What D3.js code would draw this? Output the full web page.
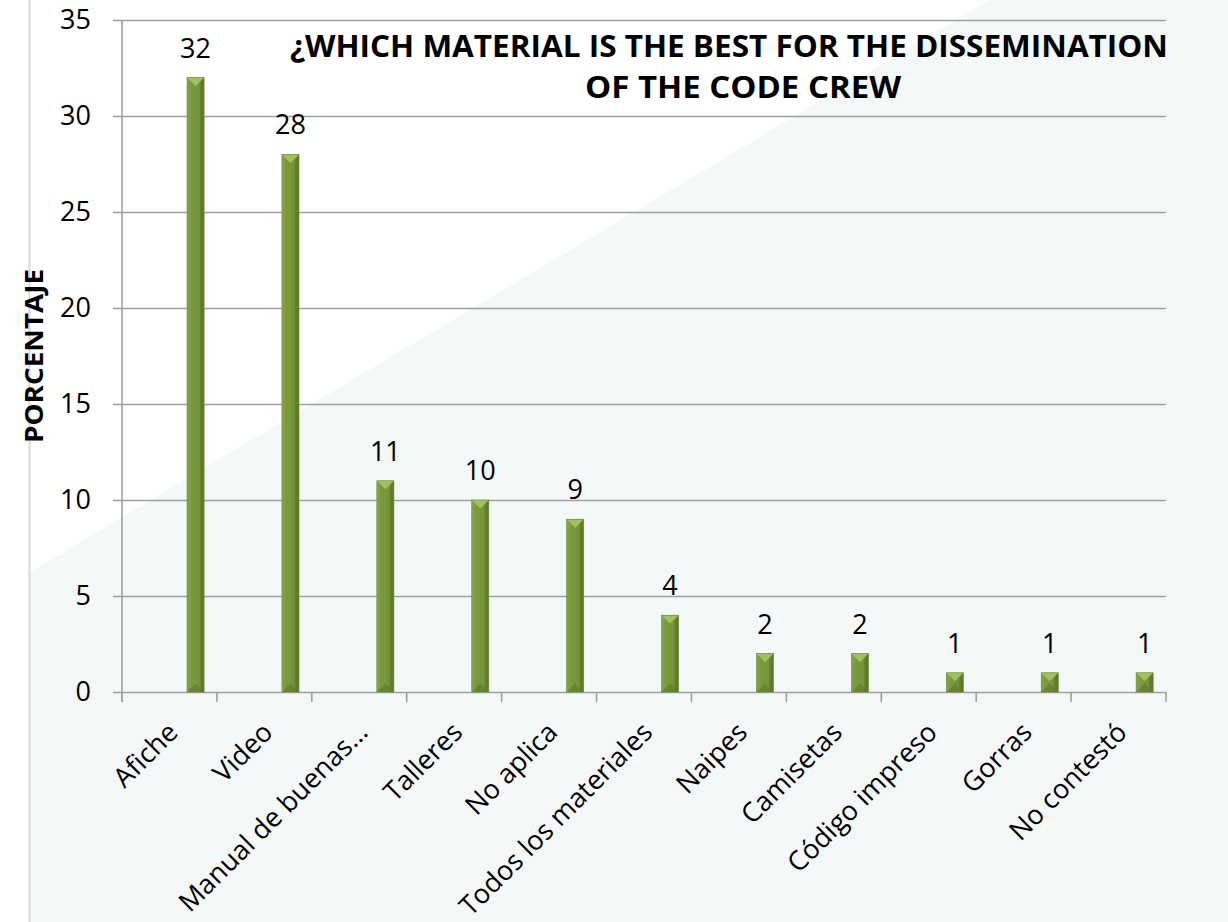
<!DOCTYPE html>
<html>
<head>
<meta charset="utf-8">
<script src="https://cdn.jsdelivr.net/npm/d3@7"></script>
<style>
  html, body { margin: 0; padding: 0; background: #fff; }
  svg { display: block; font-family: "Open Sans", "Noto Sans", sans-serif; }
</style>
</head>
<body>
<svg id="chart"></svg>
<script>
// data
const categories = ["Afiche", "Video", "Manual de buenas…", "Talleres", "No aplica",
  "Todos los materiales", "Naipes", "Camisetas", "Código impreso", "Gorras", "No contestó"];
const values = [32, 28, 11, 10, 9, 4, 2, 2, 1, 1, 1];
const yTicks = [0, 5, 10, 15, 20, 25, 30, 35];
const titleLines = ["¿WHICH MATERIAL IS THE BEST FOR THE DISSEMINATION", "OF THE CODE CREW"];
const yTitle = "PORCENTAJE";

const width = 1228, height = 922;
const margin = { top: 20, right: 62, bottom: 230, left: 122 };

const svg = d3.select("#chart").attr("width", width).attr("height", height);

// background: white corner + light grey diagonal panel
svg.append("rect").attr("width", width).attr("height", height).attr("fill", "#ffffff");
svg.append("path")
  .attr("d", "M30,572 L990,0 L1228,0 L1228,922 L30,922 Z")
  .attr("fill", "#f5f8f8");
svg.append("line")
  .attr("x1", 29.5).attr("x2", 29.5).attr("y1", 0).attr("y2", height)
  .attr("stroke", "#d9d9d9").attr("stroke-width", 2);

const x = d3.scaleBand()
  .domain(categories)
  .range([margin.left, width - margin.right])
  .padding(0);

const y = d3.scaleLinear()
  .domain([0, 35])
  .range([height - margin.bottom, margin.top]);

const y0 = y(0);

// gridlines + y labels
const yAxis = svg.append("g")
  .attr("transform", `translate(${margin.left - 9},0)`)
  .call(d3.axisLeft(y).tickValues(yTicks).tickSize(-(width - margin.right - margin.left + 9)).tickPadding(22));
yAxis.select(".domain").remove();
yAxis.selectAll(".tick line").attr("stroke", "#a0a0a0").attr("stroke-width", 1.6);
yAxis.selectAll(".tick text")
  .attr("font-family", "'Open Sans', sans-serif")
  .attr("font-size", 27)
  .attr("fill", "#000");

// vertical axis line
svg.append("line")
  .attr("x1", margin.left).attr("x2", margin.left)
  .attr("y1", y(35)).attr("y2", y0 + 10)
  .attr("stroke", "#a0a0a0").attr("stroke-width", 1.6);

// x tick marks at band boundaries
const bounds = categories.map(d => x(d)).concat([x.range()[1]]);
svg.append("g").selectAll("line")
  .data(bounds)
  .join("line")
  .attr("x1", d => d).attr("x2", d => d)
  .attr("y1", y0).attr("y2", y0 + 10)
  .attr("stroke", "#a0a0a0").attr("stroke-width", 1.6);

// gradients for bars
const defs = svg.append("defs");
const g1 = defs.append("linearGradient").attr("id", "barBody")
  .attr("x1", "0%").attr("x2", "100%").attr("y1", "0%").attr("y2", "0%");
[["0%", "#86a64a"], ["18%", "#7d9d40"], ["22%", "#7a9a3d"], ["72%", "#75943a"],
 ["80%", "#627e2e"], ["100%", "#5b7629"]].forEach(s =>
  g1.append("stop").attr("offset", s[0]).attr("stop-color", s[1]));

const bars = svg.append("g").selectAll("g")
  .data(categories.map((c, i) => ({ name: c, value: values[i] })))
  .join("g");

const bw = x.bandwidth() * 0.18;
const bx = d => x(d.name) + x.bandwidth() * 0.775 - bw / 2;

bars.append("rect")
  .attr("x", bx)
  .attr("y", d => y(d.value))
  .attr("width", bw)
  .attr("height", d => y0 - y(d.value))
  .attr("fill", "url(#barBody)");

// top bevel (light) and bottom bevel (dark)
bars.append("path")
  .attr("fill", "#a2c05f")
  .attr("d", d => {
    const x0 = bx(d), t = y(d.value), b = Math.min(bw / 2, (y0 - t) / 2);
    return `M${x0},${t} L${x0 + bw},${t} L${x0 + bw / 2},${t + b} Z`;
  });
bars.append("path")
  .attr("fill", "#5e7a2b")
  .attr("opacity", 0.6)
  .attr("d", d => {
    const x0 = bx(d), t = y(d.value), b = Math.min(bw / 2, (y0 - t) / 2);
    return `M${x0},${y0} L${x0 + bw},${y0} L${x0 + bw / 2},${y0 - b} Z`;
  });
bars.append("rect")
  .attr("x", bx)
  .attr("y", d => y(d.value))
  .attr("width", bw)
  .attr("height", d => y0 - y(d.value))
  .attr("fill", "none")
  .attr("stroke", "#6a8732")
  .attr("stroke-width", 0.6);

// value labels
bars.append("text")
  .attr("x", d => bx(d) + bw / 2)
  .attr("y", d => y(d.value) - 20)
  .attr("text-anchor", "middle")
  .attr("font-size", 27)
  .attr("fill", "#000")
  .text(d => d.value);

// category labels
svg.append("g").selectAll("text")
  .data(categories)
  .join("text")
  .attr("transform", d => `translate(${x(d) + x.bandwidth() / 2 + 10},${y0 + 42}) rotate(-45)`)
  .attr("text-anchor", "end")
  .attr("font-size", 27)
  .attr("fill", "#000")
  .text(d => d);

// y axis title
svg.append("text")
  .attr("transform", "translate(43,356) rotate(-90)")
  .attr("text-anchor", "middle")
  .attr("font-size", 25)
  .attr("font-weight", "bold")
  .attr("textLength", 174)
  .attr("lengthAdjust", "spacingAndGlyphs")
  .attr("fill", "#000")
  .text(yTitle);

// chart title
svg.append("text")
  .attr("x", 290).attr("y", 57)
  .attr("font-size", 30)
  .attr("font-weight", "bold")
  .attr("textLength", 878)
  .attr("lengthAdjust", "spacingAndGlyphs")
  .text(titleLines[0]);
svg.append("text")
  .attr("x", 585).attr("y", 98)
  .attr("font-size", 30)
  .attr("font-weight", "bold")
  .attr("textLength", 316)
  .attr("lengthAdjust", "spacingAndGlyphs")
  .text(titleLines[1]);
</script>
</body>
</html>
